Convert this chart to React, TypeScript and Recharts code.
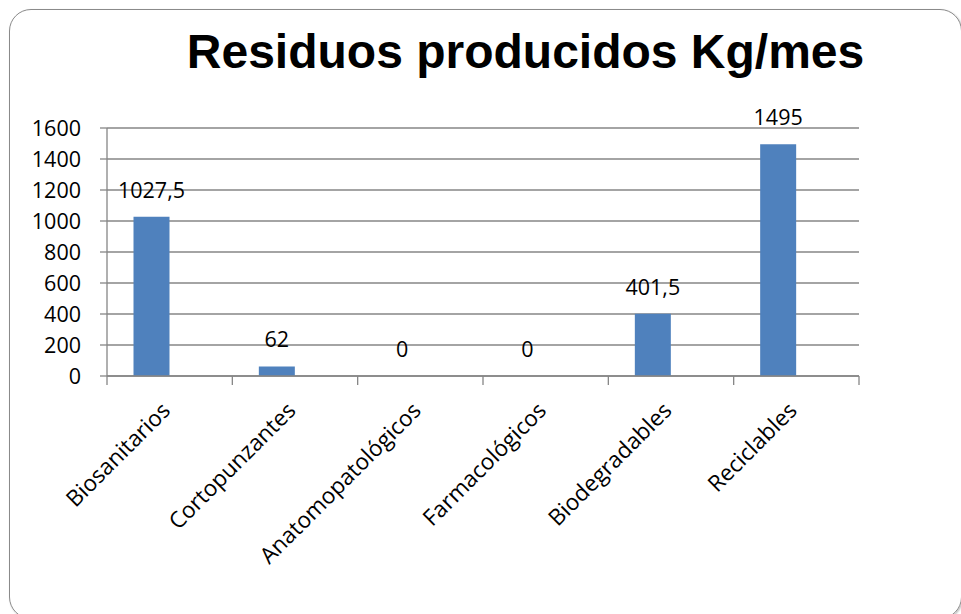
import React from 'react';
import { BarChart, Bar, XAxis, YAxis, CartesianGrid, LabelList, Customized } from 'recharts';

const title = 'Residuos producidos Kg/mes';
const categories = ['Biosanitarios', 'Cortopunzantes', 'Anatomopatológicos', 'Farmacológicos', 'Biodegradables', 'Reciclables'];
const residuos = [1027.5, 62, 0, 0, 401.5, 1495];
// second (empty) series of the original chart: it keeps the bars off-centre
const serieVacia: (number | null)[] = [null, null, null, null, null, null];
const yTicks = [0, 200, 400, 600, 800, 1000, 1200, 1400, 1600];

const data = categories.map((c, i) => ({ name: c, residuos: residuos[i], vacia: serieVacia[i] }));

const W = 961;
const H = 614;
const M = { top: 128, right: 102, bottom: 38, left: 27 };
const Y_AXIS_W = 80;
const PLOT_W = W - M.left - M.right - Y_AXIS_W;

const FONT = '"Open Sans", sans-serif';
const GRID = '#868686';

const fmt = (v: number) => String(v).replace('.', ',');

const CategoryTick = (props: any) => {
  const { x, y, payload, index } = props;
  const step = PLOT_W / categories.length;
  const ax = x + 2;
  const ay = y + 36;
  return (
    <g>
      <line x1={x - step / 2} x2={x - step / 2} y1={y} y2={y + 9} stroke={GRID} strokeWidth={1.3} />
      {index === categories.length - 1 && (
        <line x1={x + step / 2} x2={x + step / 2} y1={y} y2={y + 9} stroke={GRID} strokeWidth={1.3} />
      )}
      <text
        x={ax}
        y={ay}
        transform={`rotate(-45, ${ax}, ${ay})`}
        textAnchor="end"
        fontFamily={FONT}
        fontSize={22.5}
        fill="#000"
      >
        {payload.value}
      </text>
    </g>
  );
};

const Title = () => (
  <text x={525.5} y={68} textAnchor="middle" fontFamily='"Liberation Sans", Arial, sans-serif' fontWeight="bold" fontSize={48} fill="#000">
    {title}
  </text>
);

export default function App() {
  return (
    <div style={{ position: 'absolute', left: 0, top: 0, width: W, height: H, overflow: 'hidden', background: '#fff' }}>
      <div
        style={{
          position: 'absolute',
          left: 9,
          top: 9,
          width: 951,
          height: 608,
          border: '1.5px solid #8a8a8a',
          borderRadius: 22,
          boxShadow: '1px 1px 2px rgba(0,0,0,0.25)',
        }}
      />
      <div style={{ position: 'absolute', left: 0, top: 0 }}>
        <BarChart width={W} height={H} data={data} margin={M} barCategoryGap={26.5} barGap={0}>
          <CartesianGrid horizontal vertical={false} stroke={GRID} strokeWidth={1.3} />
          <XAxis
            dataKey="name"
            interval={0}
            tickSize={0}
            tickMargin={0}
            tickLine={false}
            height={200}
            axisLine={{ stroke: GRID, strokeWidth: 1.3 }}
            tick={<CategoryTick />}
          />
          <YAxis
            width={Y_AXIS_W}
            domain={[0, 1600]}
            ticks={yTicks}
            interval={0}
            tickSize={7}
            tickMargin={19}
            axisLine={{ stroke: GRID, strokeWidth: 1.3 }}
            tickLine={{ stroke: GRID, strokeWidth: 1.3 }}
            tick={{ fill: '#000', fontFamily: FONT, fontSize: 21.5 }}
          />
          <Bar dataKey="residuos" fill="#4F81BD" minPointSize={0.01} isAnimationActive={false}>
            <LabelList dataKey="residuos" position="top" offset={19} formatter={(v: any) => fmt(v)} fill="#000" fontFamily={FONT} fontSize={21.5} />
          </Bar>
          <Bar dataKey="vacia" fill="#C0504D" isAnimationActive={false} />
          <Customized component={Title} />
        </BarChart>
      </div>
    </div>
  );
}
